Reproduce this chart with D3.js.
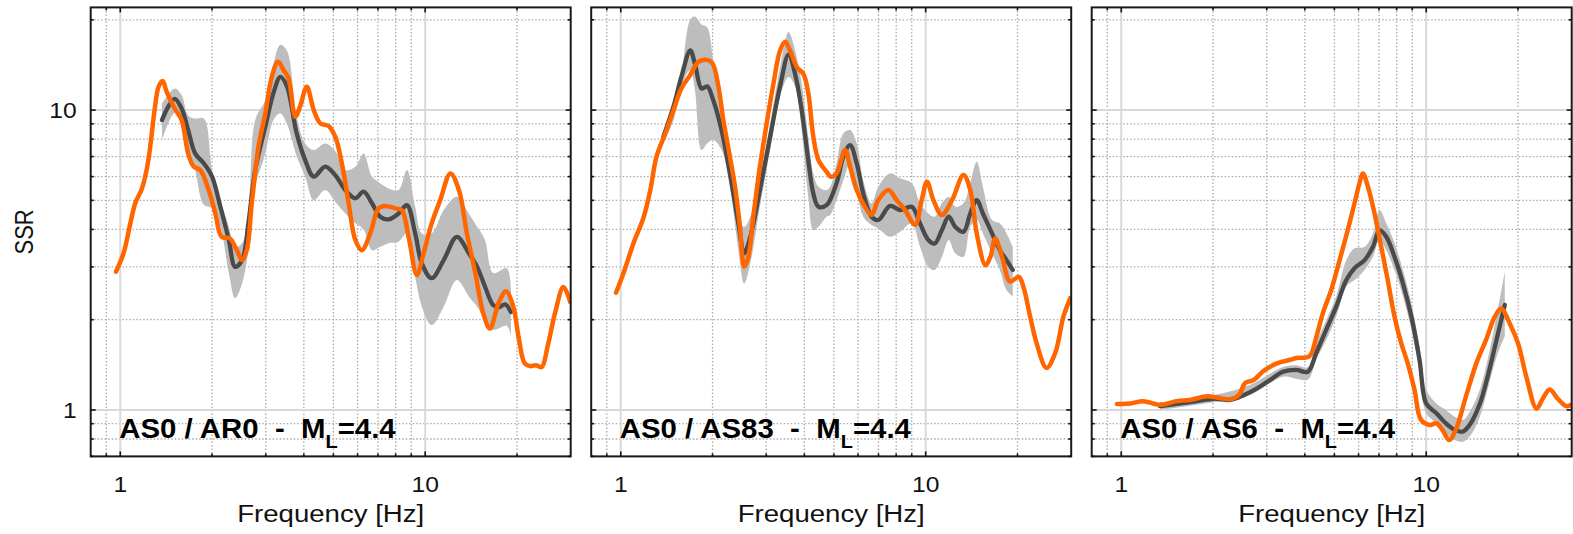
<!DOCTYPE html>
<html><head><meta charset="utf-8">
<script src="https://cdn.jsdelivr.net/npm/d3@7"></script>
<style>body{margin:0;background:#fff} svg{display:block}</style>
</head><body>
<svg id="c" width="1573" height="534"></svg>
<script>
// ---------- labels / ticks ----------
const panelTitles = ["AS0 / AR0", "AS0 / AS83", "AS0 / AS6"];
const magnitudeLabel = "=4.4";
const xTickValues = [1, 10];
const yTickValues = [1, 10];
const xMinorValues = [0.9, 2, 3, 4, 5, 6, 7, 8, 9, 20, 30];
const yMinorValues = [0.7, 0.8, 0.9, 2, 3, 4, 5, 6, 7, 8, 9, 20];

// ---------- panel 1 : AS0 / AR0 ----------
const p1OrangeF   = [0.968,1.025,1.079,1.12,1.178,1.223,1.254,1.296,1.336,1.377,1.42,1.51,1.59,1.67,1.74,1.83,1.95,2.05,2.15,2.29,2.41,2.51,2.60,2.70,2.84,2.99,3.14,3.29,3.43,3.56,3.75,3.89,4.09,4.31,4.53,4.82,5.07,5.33,5.61,5.9,6.2,6.6,7.03,7.39,7.98,8.38,8.82,9.39,9.88,10.5,11.2,12.1,12.9,13.7,14.6,15.5,16.3,17.4,18.4,19.4,20.3,21.2,22.1,23.1,24.1,25.2,26.7,28.4,29.9];
const p1OrangeSSR = [2.89,3.33,4.19,4.89,5.48,6.39,7.55,10.0,11.97,12.5,11.5,10.1,9.26,7.17,6.48,6.31,5.41,4.52,3.78,3.73,3.41,3.16,3.41,4.89,7.55,9.75,12.9,14.5,13.6,12.8,9.5,10.3,11.97,10.0,9.03,8.85,8.15,6.64,4.89,3.69,3.41,3.88,4.7,4.79,4.7,4.64,3.78,2.82,3.33,4.19,5.01,6.15,5.41,3.88,2.86,2.10,1.87,2.27,2.49,2.23,1.72,1.43,1.40,1.41,1.39,1.63,2.12,2.57,2.29];
const p1MeanF   = [1.37,1.44,1.51,1.59,1.67,1.76,1.88,2.0,2.13,2.27,2.38,2.51,2.64,2.77,2.99,3.18,3.35,3.52,3.79,4.04,4.31,4.7,5.07,5.47,5.9,6.28,6.69,7.12,7.58,8.18,8.71,9.27,9.75,10.5,11.5,12.7,13.9,14.8,15.7,16.7,17.4,18.3,19.1];
const p1MeanSSR = [9.26,10.3,10.9,10.1,8.58,7.17,6.64,6.0,4.76,3.69,3.0,3.16,4.3,6.31,8.8,11.4,12.9,12.0,8.36,6.81,6.0,6.48,6.07,5.41,5.08,5.35,4.89,4.41,4.32,4.52,4.82,3.88,3.08,2.75,3.16,3.78,3.33,3.0,2.58,2.24,2.2,2.25,2.12];
const p1BandF    = [1.37,1.51,1.59,1.67,1.76,1.88,2.0,2.13,2.27,2.38,2.51,2.64,2.77,2.99,3.18,3.35,3.52,3.79,4.04,4.31,4.7,5.07,5.47,5.9,6.28,6.69,7.12,7.58,8.18,8.71,9.27,9.75,10.5,11.5,12.7,13.9,14.8,15.7,16.7,18.5,19.1];
const p1BandLow  = [7.94,9.8,9.3,7.55,6.31,4.83,4.7,4.08,2.86,2.36,2.64,3.5,5.54,7.17,9.26,9.75,9.0,7.0,6.0,5.0,5.41,4.95,4.52,4.19,4.0,3.41,3.5,3.6,3.64,3.88,2.78,2.21,1.92,2.21,2.71,2.39,2.21,1.99,1.85,1.91,1.76];
const p1BandHigh = [10.5,11.8,11.2,9.6,9.37,9.37,6.31,5.01,4.08,3.5,3.6,4.88,9.26,10.8,14.3,16.5,15.8,9.5,7.74,7.36,7.74,7.3,6.31,6.47,7.17,6.0,5.7,5.48,5.41,6.31,4.76,3.88,3.88,4.64,5.14,4.52,4.08,3.69,2.86,2.97,2.54];

// ---------- panel 2 : AS0 / AS83 ----------
const p2OrangeF   = [0.965,1.02,1.10,1.19,1.25,1.31,1.40,1.49,1.58,1.69,1.80,1.92,2.0,2.09,2.17,2.28,2.37,2.46,2.54,2.62,2.72,2.86,3.01,3.17,3.33,3.46,3.59,3.78,3.97,4.12,4.28,4.45,4.73,4.89,5.1,5.44,5.65,5.94,6.32,6.65,6.99,7.54,8.03,8.56,9.23,9.7,10.1,10.6,11.3,12.2,13.3,14.0,14.7,15.7,16.3,16.9,17.8,18.9,20.2,20.9,22.0,23.1,24.9,26.6,28.3,29.8];
const p2OrangeSSR = [2.46,2.85,3.59,4.41,5.41,6.99,8.36,10.0,11.8,13.1,14.5,14.7,14.3,12.0,9.26,6.99,5.55,4.08,3.0,3.24,4.41,6.48,9.03,12.3,15.8,16.9,15.8,13.9,13.2,11.4,8.15,6.81,6.23,5.99,6.15,7.36,6.48,5.41,4.76,4.47,5.01,5.41,5.01,4.64,4.14,5.01,5.77,5.01,4.47,5.01,6.07,5.41,3.88,3.04,3.24,3.73,3.24,2.68,2.78,2.58,2.05,1.67,1.38,1.55,2.05,2.36];
const p2MeanF   = [1.38,1.49,1.58,1.69,1.75,1.84,1.92,2.01,2.14,2.28,2.43,2.54,2.66,2.86,3.09,3.33,3.55,3.73,3.92,4.12,4.28,4.45,4.73,5.1,5.37,5.65,5.94,6.24,6.65,6.99,7.64,8.24,9.0,9.58,10.2,10.7,11.3,11.9,12.5,13.3,14.0,14.7,15.4,16.5,17.5,18.4,19.3];
const p2MeanSSR = [8.15,10.3,12.9,15.8,14.3,11.8,12.0,10.8,8.58,6.15,4.19,3.33,3.78,5.41,8.15,12.0,15.3,13.2,10.0,6.81,5.27,4.76,4.82,5.7,6.99,7.64,6.64,5.27,4.41,4.3,4.79,4.64,4.76,4.19,3.69,3.59,3.98,4.41,4.08,3.93,4.52,5.01,4.52,3.88,3.41,3.16,2.93];
const p2BandF    = [1.38,1.49,1.58,1.69,1.75,1.84,1.92,2.01,2.14,2.28,2.43,2.54,2.66,2.86,3.09,3.33,3.55,3.73,3.92,4.12,4.28,4.45,4.73,4.86,5.1,5.37,5.65,5.94,6.24,6.65,6.99,7.64,8.24,9.0,9.58,10.2,10.7,11.3,11.9,12.5,13.3,14.0,14.7,15.4,16.5,17.5,18.4,19.3];
const p2BandLow  = [7.74,9.26,12.0,13.6,11.7,7.36,7.74,7.94,7.36,5.55,3.41,2.64,3.09,4.76,7.36,11.1,12.9,12.0,8.58,5.14,3.98,4.08,4.41,4.47,5.01,5.84,6.64,5.41,4.41,4.14,4.03,3.78,3.93,4.19,3.5,3.0,2.93,3.24,3.69,3.33,3.24,4.08,4.3,3.88,3.33,2.93,2.51,2.39];
const p2BandHigh = [8.36,10.5,13.2,20.0,20.5,19.3,18.9,14.7,10.5,7.0,4.41,4.08,4.41,6.0,9.03,13.9,18.2,15.8,12.3,8.15,6.15,5.55,5.41,5.55,6.64,8.36,8.58,7.74,5.84,4.89,5.55,6.15,5.92,5.7,4.89,4.52,4.41,4.89,5.13,4.76,4.89,5.7,6.72,5.55,4.3,4.19,3.88,3.5];

// ---------- panel 3 : AS0 / AS6 ----------
const p3OrangeF   = [0.968,1.07,1.18,1.34,1.52,1.68,1.91,2.06,2.28,2.43,2.55,2.72,2.93,3.24,3.58,3.75,4.14,4.36,4.58,4.88,5.2,5.53,5.82,6.04,6.2,6.44,6.77,7.12,7.48,7.87,8.28,8.7,9.15,9.62,10.3,10.8,11.3,11.9,12.5,13.5,14.6,15.7,16.8,17.6,18.8,20.0,21.3,23.0,24.1,25.4,27.0,28.8,29.9];
const p3OrangeSSR = [1.047,1.05,1.07,1.04,1.07,1.08,1.11,1.10,1.085,1.12,1.23,1.26,1.35,1.43,1.47,1.49,1.51,1.75,2.1,2.51,3.16,3.98,4.89,5.7,6.15,5.55,4.52,3.5,2.71,2.05,1.67,1.43,1.17,0.926,0.891,0.903,0.858,0.794,0.858,1.11,1.43,1.71,2.05,2.18,1.94,1.67,1.29,1.01,1.09,1.17,1.09,1.03,1.04];
const p3MeanF   = [1.34,1.52,1.77,2.01,2.28,2.52,2.79,3.08,3.39,3.75,4.09,4.36,4.7,5.07,5.47,5.82,6.28,6.69,7.03,7.4,7.87,8.39,8.94,9.51,10.0,10.8,11.6,12.4,13.2,14.0,15.0,15.9,17.0,18.1];
const p3MeanSSR = [1.03,1.047,1.07,1.09,1.08,1.12,1.18,1.26,1.34,1.36,1.34,1.55,1.85,2.21,2.71,2.97,3.16,3.5,3.98,3.78,3.24,2.64,2.05,1.47,1.05,0.975,0.903,0.858,0.847,0.903,1.05,1.29,1.71,2.24];
const p3BandF    = [1.34,2.0,2.63,3.39,3.75,4.09,4.36,4.7,5.07,5.47,5.82,6.28,6.69,7.03,7.4,7.87,8.39,8.94,9.51,10.0,10.8,11.6,12.4,13.2,14.0,15.0,15.9,17.0,18.1];
const p3BandLow  = [1.0,1.06,1.12,1.29,1.27,1.26,1.47,1.71,2.05,2.58,2.71,2.93,3.24,3.69,3.41,2.93,2.39,1.85,1.33,0.975,0.903,0.836,0.794,0.784,0.825,0.95,1.17,1.5,1.76];
const p3BandHigh = [1.06,1.12,1.21,1.39,1.41,1.39,1.67,1.99,2.39,3.16,3.46,3.5,3.88,4.64,4.19,3.6,2.93,2.27,1.63,1.17,1.05,1.0,0.95,0.926,1.0,1.17,1.47,2.05,2.89];

// ---------- assemble ----------
const zipPts = (f, s) => f.map((d, i) => ({f: d, s: s[i]}));
const zipBand = (f, lo, hi) => f.map((d, i) => ({f: d, lo: lo[i], hi: hi[i]}));
const panels = [
  {title: panelTitles[0], orange: zipPts(p1OrangeF, p1OrangeSSR), mean: zipPts(p1MeanF, p1MeanSSR), band: zipBand(p1BandF, p1BandLow, p1BandHigh)},
  {title: panelTitles[1], orange: zipPts(p2OrangeF, p2OrangeSSR), mean: zipPts(p2MeanF, p2MeanSSR), band: zipBand(p2BandF, p2BandLow, p2BandHigh)},
  {title: panelTitles[2], orange: zipPts(p3OrangeF, p3OrangeSSR), mean: zipPts(p3MeanF, p3MeanSSR), band: zipBand(p3BandF, p3BandLow, p3BandHigh)}
];

const svg = d3.select("#c");
const FONT = "'Liberation Sans', Arial, Helvetica, sans-serif";
const W = 480, H = 449, TOP = 7.4;
const lefts = [90.7, 591.2, 1091.7];
const SX = 1.12; // horizontal stretch of the original figure's text

const x = d3.scaleLog().domain([0.8, 30]).range([0, W]);
const y = d3.scaleLog().domain([0.7, 22]).range([H, 0]);

const curve = d3.curveCatmullRom.alpha(0.5);
const line = d3.line().x(d => x(d.f)).y(d => y(d.s)).curve(curve);
const area = d3.area().x(d => x(d.f)).y0(d => y(d.lo)).y1(d => y(d.hi)).curve(curve);

panels.forEach((p, i) => {
  const g = svg.append("g").attr("transform", `translate(${lefts[i]},${TOP})`);
  const clipId = "clip" + i;
  g.append("clipPath").attr("id", clipId).append("rect").attr("width", W).attr("height", H);

  // minor grid (dotted)
  const grid = g.append("g");
  grid.selectAll(".mx").data(xMinorValues).join("line")
    .attr("x1", d => x(d)).attr("x2", d => x(d)).attr("y1", 0).attr("y2", H)
    .attr("stroke", "#ababab").attr("stroke-width", 1.3).attr("stroke-dasharray", "1.5,2");
  grid.selectAll(".my").data(yMinorValues).join("line")
    .attr("y1", d => y(d)).attr("y2", d => y(d)).attr("x1", 0).attr("x2", W)
    .attr("stroke", "#ababab").attr("stroke-width", 1.3).attr("stroke-dasharray", "1.5,2");
  // major grid (solid light)
  grid.selectAll(".Mx").data(xTickValues).join("line")
    .attr("x1", d => x(d)).attr("x2", d => x(d)).attr("y1", 0).attr("y2", H)
    .attr("stroke", "#d9d9d9").attr("stroke-width", 2);
  grid.selectAll(".My").data(yTickValues).join("line")
    .attr("y1", d => y(d)).attr("y2", d => y(d)).attr("x1", 0).attr("x2", W)
    .attr("stroke", "#d9d9d9").attr("stroke-width", 2);

  const data = g.append("g").attr("clip-path", `url(#${clipId})`);
  data.append("path").datum(p.band).attr("d", area).attr("fill", "#bdbdbd");
  data.append("path").datum(p.mean).attr("d", line).attr("fill", "none")
    .attr("stroke", "#4a4a4a").attr("stroke-width", 4.3).attr("stroke-linejoin", "round").attr("stroke-linecap", "round");
  data.append("path").datum(p.orange).attr("d", line).attr("fill", "none")
    .attr("stroke", "#ff6600").attr("stroke-width", 4.5).attr("stroke-linejoin", "round").attr("stroke-linecap", "round");

  // frame
  g.append("rect").attr("width", W).attr("height", H).attr("fill", "none")
    .attr("stroke", "#1a1a1a").attr("stroke-width", 2);

  // inward ticks
  const tk = g.append("g").attr("stroke", "#111").attr("stroke-width", 1.6);
  const yt = yTickValues.map(v => ({v, len: 5})).concat(yMinorValues.map(v => ({v, len: 3})));
  const xt = xTickValues.map(v => ({v, len: 5})).concat(xMinorValues.filter(v => v < 30).map(v => ({v, len: 3})));
  yt.forEach(t => {
    tk.append("line").attr("x1", 0).attr("x2", t.len).attr("y1", y(t.v)).attr("y2", y(t.v));
    tk.append("line").attr("x1", W).attr("x2", W - t.len).attr("y1", y(t.v)).attr("y2", y(t.v));
  });
  xt.forEach(t => {
    tk.append("line").attr("y1", H).attr("y2", H - t.len).attr("x1", x(t.v)).attr("x2", x(t.v));
    tk.append("line").attr("y1", 0).attr("y2", t.len).attr("x1", x(t.v)).attr("x2", x(t.v));
  });

  // x tick labels
  g.selectAll(".xl").data(xTickValues).join("text")
    .attr("transform", d => `translate(${x(d)},${H + 36}) scale(${SX},1)`).attr("text-anchor", "middle")
    .attr("font-family", FONT).attr("font-size", 22).attr("fill", "#111").text(d => d3.format("d")(d));

  // x axis title
  g.append("text").attr("transform", `translate(${W / 2},${H + 66}) scale(1.15,1)`).attr("text-anchor", "middle")
    .attr("font-family", FONT).attr("font-size", 24).attr("fill", "#111").text("Frequency [Hz]");

  // panel label
  const lab = g.append("text").attr("transform", `translate(${x(1) - 1},${431}) scale(1.05,1)`)
    .attr("font-family", FONT).attr("font-weight", "bold").attr("font-size", 28).attr("fill", "#000")
    .style("white-space", "pre");
  lab.append("tspan").text(p.title + "  -  M");
  lab.append("tspan").attr("font-size", 19).attr("dy", 10).text("L");
  lab.append("tspan").attr("dy", -10).text(magnitudeLabel);

  if (i === 0) {
    g.selectAll(".yl").data(yTickValues).join("text")
      .attr("transform", d => `translate(-14,${y(d)}) scale(${SX},1)`).attr("dy", "0.36em").attr("text-anchor", "end")
      .attr("font-family", FONT).attr("font-size", 22).attr("fill", "#111").text(d => d3.format("d")(d));
    g.append("text").attr("transform", `translate(-58,${H / 2}) scale(1.2,1) rotate(-90)`)
      .attr("text-anchor", "middle").attr("font-family", FONT).attr("font-size", 22).attr("fill", "#111").text("SSR");
  }
});
</script>
</body></html>
